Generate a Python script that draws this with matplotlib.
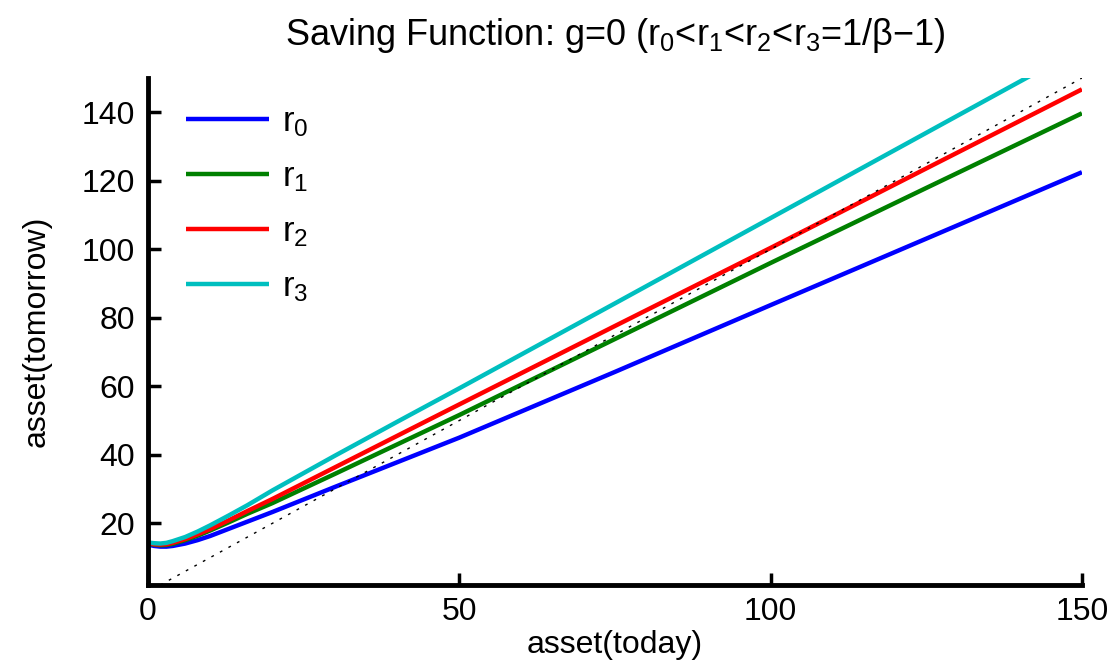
import matplotlib
matplotlib.use("Agg")
import matplotlib.pyplot as plt
import numpy as np

plt.rcParams['font.family'] = ['Liberation Sans', 'DejaVu Sans']
plt.rcParams['mathtext.fontset'] = 'custom'
plt.rcParams['mathtext.rm'] = 'Liberation Sans'
plt.rcParams['mathtext.it'] = 'Liberation Sans'
plt.rcParams['mathtext.default'] = 'regular'

asset_today = [0, 1, 2, 3, 4, 6, 8, 10, 13, 16, 20, 30, 40, 50, 75, 100, 125, 150]
r0 = [13.8, 13.4, 13.2, 13.2, 13.4, 14.1, 15.1, 16.3, 18.4, 20.5, 23.3, 30.6, 37.8, 45.0, 64.2, 83.7, 103.1, 122.5]
r1 = [14.1, 13.8, 13.6, 13.7, 14.0, 15.1, 16.4, 17.9, 20.3, 22.8, 25.9, 34.4, 43.0, 51.6, 73.8, 96.0, 117.9, 139.7]
r2 = [14.2, 13.9, 13.8, 13.9, 14.3, 15.4, 16.8, 18.3, 20.9, 23.6, 27.1, 36.3, 45.5, 54.7, 77.6, 100.4, 123.6, 146.7]
r3 = [14.4, 14.2, 14.1, 14.3, 14.8, 16.0, 17.6, 19.4, 22.3, 25.3, 29.6, 39.7, 49.6, 59.4, 84.2, 109.1, 134.0, 158.9]
diag = [2, 150]

series = [(r0, '#0000ff', r'r$_0$'), (r1, '#008000', r'r$_1$'),
          (r2, '#ff0000', r'r$_2$'), (r3, '#00bfbf', r'r$_3$')]

fig = plt.figure(figsize=(11.2, 6.64), dpi=100)
ax = fig.add_axes([0.132, 0.119, 0.834, 0.7635])

for ys, c, lab in series:
    ax.plot(asset_today, ys, color=c, lw=3.2, label=lab, solid_capstyle='butt',
            solid_joinstyle='round')
ax.plot(diag, diag, color='black', lw=1, linestyle=(0, (2, 5)))

ax.set_xlim(0, 150)
ax.set_ylim(2, 150)
ax.set_xticks([0, 50, 100, 150])
ax.set_yticks([20, 40, 60, 80, 100, 120, 140])
for s in ['top', 'right']:
    ax.spines[s].set_visible(False)
for s in ['left', 'bottom']:
    ax.spines[s].set_linewidth(3.5)
ax.tick_params(direction='in', length=9, width=2.5, labelsize=23, pad=9)

ax.set_xlabel('asset(today)', fontsize=23, labelpad=2)
ax.set_ylabel('asset(tomorrow)', fontsize=23, labelpad=22)
ax.set_title(r'Saving Function: g=0 (r$_0$<r$_1$<r$_2$<r$_3$=1/β−1)', fontsize=26, pad=24)

leg = ax.legend(loc='upper left', frameon=False, fontsize=25, handlelength=2.4,
                labelspacing=0.62, borderaxespad=0.3, handletextpad=0.35,
                bbox_to_anchor=(0.015, 0.995))
for h in leg.get_lines():
    h.set_linewidth(3.2)

fig.savefig('out.png', dpi=100)
